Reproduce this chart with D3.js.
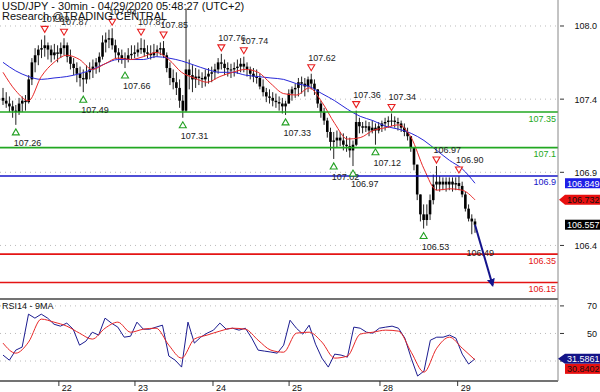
<!DOCTYPE html>
<html>
<head>
  <meta charset="UTF-8">
  <style>
    body { margin: 0; background: #fff; }
    svg { display: block; font-family: "Liberation Sans", Arial, sans-serif; }
  </style>
</head>
<body>
<svg></svg>
<script src="https://d3js.org/d3.v7.min.js"></script>
<script>

let width = 600, height = 392;

// hourly bars (open = previous close)
let highs = [
  107.52,107.49,107.46,107.43,107.40,107.45,107.46,107.47,107.61,107.73,
  107.80,107.82,107.86,107.89,107.84,107.82,107.83,107.82,107.84,107.87,
  107.84,107.79,107.73,107.70,107.67,107.65,107.68,107.70,107.72,107.73,
  107.77,107.89,107.91,107.93,107.94,107.86,107.80,107.79,107.77,107.80,
  107.82,107.82,107.84,107.87,107.86,107.82,107.82,107.83,107.82,107.84,
  107.85,107.77,107.70,107.65,107.63,107.58,107.47,108.08,107.72,107.68,
  107.66,107.65,107.63,107.65,107.66,107.67,107.69,107.73,107.76,107.72,
  107.70,107.69,107.70,107.72,107.73,107.74,107.70,107.67,107.66,107.65,
  107.62,107.58,107.52,107.51,107.49,107.48,107.46,107.45,107.43,107.51,
  107.53,107.55,107.59,107.60,107.59,107.60,107.62,107.58,107.51,107.43,
  107.38,107.31,107.24,107.21,107.22,107.21,107.20,107.18,107.17,107.15,
  107.36,107.31,107.28,107.29,107.28,107.29,107.27,107.28,107.29,107.31,
  107.32,107.34,107.32,107.31,107.29,107.27,107.24,107.18,107.10,106.98,
  106.77,106.70,106.70,106.77,106.91,106.97,106.90,106.89,106.89,106.89,
  106.89,106.89,106.90,106.86,106.79,106.70,106.63,106.60
];
let lows = [
  107.40,107.38,107.35,107.31,107.26,107.33,107.35,107.36,107.41,107.54,
  107.63,107.68,107.73,107.74,107.72,107.70,107.72,107.70,107.73,107.75,
  107.70,107.65,107.61,107.56,107.53,107.49,107.55,107.58,107.59,107.62,
  107.63,107.72,107.77,107.80,107.79,107.73,107.70,107.69,107.66,107.70,
  107.72,107.73,107.74,107.76,107.74,107.73,107.72,107.73,107.74,107.75,
  107.73,107.63,107.54,107.51,107.47,107.38,107.31,107.35,107.51,107.49,
  107.52,107.54,107.52,107.53,107.55,107.56,107.58,107.62,107.65,107.61,
  107.60,107.59,107.60,107.62,107.63,107.63,107.60,107.58,107.56,107.55,
  107.51,107.46,107.42,107.41,107.39,107.38,107.36,107.34,107.33,107.41,
  107.43,107.45,107.46,107.48,107.46,107.49,107.51,107.47,107.38,107.31,
  107.26,107.17,107.08,107.02,107.10,107.11,107.08,107.07,107.03,106.97,
  107.11,107.20,107.20,107.21,107.18,107.20,107.12,107.20,107.21,107.22,
  107.24,107.25,107.24,107.22,107.21,107.18,107.15,107.07,106.94,106.73,
  106.58,106.53,106.55,106.59,106.70,106.80,106.79,106.80,106.79,106.80,
  106.79,106.80,106.80,106.75,106.65,106.58,106.49,106.50
];
let closes = [
  107.43,107.41,107.39,107.36,107.35,107.41,107.43,107.42,107.58,107.70,
  107.75,107.79,107.80,107.82,107.79,107.75,107.77,107.76,107.80,107.82,
  107.74,107.69,107.66,107.62,107.59,107.58,107.63,107.65,107.67,107.70,
  107.74,107.84,107.86,107.87,107.82,107.77,107.75,107.73,107.72,107.75,
  107.76,107.77,107.79,107.80,107.77,107.76,107.75,107.77,107.79,107.80,
  107.75,107.66,107.59,107.56,107.52,107.43,107.36,107.65,107.61,107.58,
  107.60,107.59,107.58,107.60,107.62,107.63,107.65,107.70,107.69,107.66,
  107.65,107.65,107.66,107.67,107.69,107.67,107.65,107.62,107.60,107.59,
  107.53,107.49,107.46,107.45,107.43,107.42,107.41,107.39,107.41,107.48,
  107.51,107.52,107.56,107.55,107.53,107.58,107.55,107.51,107.41,107.35,
  107.29,107.21,107.14,107.15,107.17,107.15,107.12,107.11,107.08,107.12,
  107.28,107.25,107.24,107.25,107.22,107.24,107.22,107.25,107.27,107.28,
  107.29,107.29,107.28,107.27,107.24,107.21,107.18,107.10,106.98,106.77,
  106.63,106.59,106.63,106.73,106.84,106.86,106.84,106.86,106.84,106.86,
  106.84,106.85,106.83,106.77,106.67,106.60,106.58,106.557
];

// moving averages, sampled evenly over the bars
let redMA = [107.63,107.50,107.43,107.60,107.70,107.75,107.72,107.65,107.69,107.73,
  107.72,107.74,107.77,107.72,107.63,107.59,107.56,107.60,107.63,107.65,
  107.63,107.55,107.48,107.47,107.52,107.42,107.27,107.16,107.17,107.22,
  107.24,107.26,107.17,106.95,106.80,106.81,106.80,106.732];
let blueMA = [107.70,107.64,107.60,107.58,107.59,107.60,107.62,107.65,107.69,107.72,
  107.72,107.72,107.74,107.73,107.71,107.68,107.65,107.63,107.63,107.61,
  107.60,107.59,107.58,107.55,107.53,107.48,107.43,107.37,107.32,107.29,
  107.25,107.23,107.20,107.15,107.08,107.01,106.95,106.849];

// RSI14 and its 9MA
let rsi = [34.3,30.6,37.9,40.1,64.0,61.1,64.0,61.1,56.7,55.3,
  57.5,53.1,41.5,44.4,50.9,48.8,61.1,57.5,54.6,47.3,
  48.0,58.2,53.1,53.1,54.6,56.0,33.6,30.6,25.6,58.2,
  43.0,47.3,50.2,52.4,57.5,53.1,53.8,52.4,53.8,46.6,
  37.9,37.2,36.5,35.7,41.5,59.6,53.8,49.5,56.0,42.2,
  32.1,25.6,35.0,34.3,32.8,54.6,53.8,50.9,50.2,53.8,
  54.6,55.3,53.8,46.6,32.1,19.1,22.7,45.1,47.3,47.3,
  48.8,46.6,35.0,27.8,31.5861];
let rsiMA = [43.0,35.7,43.7,60.4,58.2,55.3,50.2,45.9,53.8,58.2,
  50.9,53.1,53.8,41.5,32.1,45.9,48.8,51.7,53.8,53.1,
  45.1,37.9,36.4,50.2,50.9,43.7,32.1,33.6,49.5,50.9,
  52.4,51.7,36.4,21.9,39.3,47.3,39.3,30.8402];

// key levels
let levels = [107.35, 107.1, 106.9, 106.35, 106.15];
let levelLabels = ["107.35", "107.1", "106.9", "106.35", "106.15"];

// fractal highs / lows (bar index, price)
let highIdx = [13, 19, 34, 43, 50, 68, 75, 96, 110, 121, 135, 142];
let highVal = [107.89, 107.87, 107.94, 107.87, 107.85, 107.76, 107.74, 107.62, 107.36, 107.34, 106.97, 106.90];
let lowIdx = [4, 25, 38, 56, 88, 103, 109, 116, 131];
let lowVal = [107.26, 107.49, 107.66, 107.31, 107.33, 107.02, 106.97, 107.12, 106.53];

// day labels (bar index)
let dayIdx = [17.4, 41.1, 65.4, 89.1, 117.4, 141.6];
let dayLabels = ["22", "23", "24", "25", "28", "29"];

let priceTicks = [107.956, 107.441, 106.926, 106.411];
let rsiTicks = [70, 50, 30];
let rsiTickLabels = ["70", "50", ""];   // 30 sits under the value tags

let lastClose = 106.557, lastBlue = 106.849, lastRed = 106.732;
let targetIdx = 152.5, targetVal = 106.13;

let svg = d3.select("svg")
    .attr("width", width)
    .attr("height", height)

let axisX = 558, mainBottom = 299, rsiBottom = 381;

let x = d3.scaleLinear().domain([0, 147]).range([3, 475]);
let y = d3.scaleLinear().domain([106.034, 108.139]).range([mainBottom, 0]);
let yr = d3.scaleLinear().domain([15.5, 75]).range([rsiBottom, mainBottom]);

let levelColor = d3.scaleOrdinal()
    .domain(levels)
    .range(["#22a822", "#22a822", "#1414c8", "#e41414", "#e41414"]);

svg.append("clipPath").attr("id", "mainClip")
  .append("rect").attr("x", 0).attr("y", 0).attr("width", axisX).attr("height", mainBottom);

// grid
svg.append("g")
  .selectAll("line")
  .data(priceTicks)
  .join("line")
  .attr("x1", 0).attr("x2", axisX)
  .attr("y1", d => y(d)).attr("y2", d => y(d))
  .attr("stroke", "#bbb")
  .attr("stroke-dasharray", "1,4");

svg.append("g")
  .selectAll("line")
  .data(rsiTicks)
  .join("line")
  .attr("x1", 0).attr("x2", axisX)
  .attr("y1", d => yr(d)).attr("y2", d => yr(d))
  .attr("stroke", "#bbb")
  .attr("stroke-dasharray", "1,4");

let main = svg.append("g").attr("clip-path", "url(#mainClip)");

// bars
let bars = main.append("g");
closes.forEach((c, i) => {
    let o = i > 0 ? closes[i - 1] : 107.45;
    bars.append("line")
      .attr("x1", x(i)).attr("x2", x(i))
      .attr("y1", y(highs[i])).attr("y2", y(lows[i]))
      .attr("stroke", "#222")
      .attr("stroke-width", 1);
    bars.append("rect")
      .attr("x", x(i) - 1.3)
      .attr("width", 2.6)
      .attr("y", Math.min(y(o), y(c)))
      .attr("height", Math.max(1, Math.abs(y(o) - y(c))))
      .attr("fill", "#000");
});

// moving averages
function maLine(arr, scale) {
    let n = arr.length - 1;
    return d3.line()
      .x((d, k) => x(k * 147 / n))
      .y(d => scale(d))
      .curve(d3.curveMonotoneX)(arr);
}

main.append("path").attr("d", maLine(blueMA, y))
  .attr("fill", "none").attr("stroke", "#2828d8").attr("stroke-width", 1);
main.append("path").attr("d", maLine(redMA, y))
  .attr("fill", "none").attr("stroke", "#e82828").attr("stroke-width", 1);

// levels
main.append("g")
  .selectAll("line")
  .data(levels)
  .join("line")
  .attr("x1", 0).attr("x2", axisX)
  .attr("y1", d => y(d)).attr("y2", d => y(d))
  .attr("stroke", d => levelColor(d))
  .attr("stroke-width", 1.6);

svg.append("g")
  .selectAll("text")
  .data(levels)
  .join("text")
  .attr("x", axisX - 2)
  .attr("y", d => y(d) + 9.5)
  .attr("text-anchor", "end")
  .attr("font-size", 9)
  .attr("fill", d => levelColor(d))
  .text((d, i) => levelLabels[i]);

// fractal markers
let marks = svg.append("g");
highIdx.forEach((idx, k) => {
    let cx = x(idx), cy = y(highVal[k]) - 6;
    marks.append("path")
      .attr("d", `M${cx - 3.5},${cy - 3} L${cx + 3.5},${cy - 3} L${cx},${cy + 3} Z`)
      .attr("fill", "#fff").attr("stroke", "#e82020").attr("stroke-width", 1.1);
    marks.append("text")
      .attr("x", cx - 3).attr("y", cy - 7)
      .attr("font-size", 9).attr("fill", "#222")
      .text(highVal[k].toFixed(2));
});
lowIdx.forEach((idx, k) => {
    let cx = x(idx), cy = y(lowVal[k]) + 7;
    marks.append("path")
      .attr("d", `M${cx - 3.5},${cy + 3} L${cx + 3.5},${cy + 3} L${cx},${cy - 3} Z`)
      .attr("fill", "#fff").attr("stroke", "#22a022").attr("stroke-width", 1.1);
    marks.append("text")
      .attr("x", cx - 2).attr("y", cy + 14)
      .attr("font-size", 9).attr("fill", "#222")
      .text(lowVal[k].toFixed(2));
});
marks.append("text")
  .attr("x", x(145) - 2).attr("y", y(lows[146]) + 22)
  .attr("font-size", 9).attr("fill", "#222")
  .text(lows[146].toFixed(2));

// projection arrow
svg.append("defs").append("marker")
  .attr("id", "head")
  .attr("viewBox", "0 0 10 10")
  .attr("refX", 8).attr("refY", 5)
  .attr("markerWidth", 4).attr("markerHeight", 4)
  .attr("orient", "auto")
  .append("path").attr("d", "M0,0 L10,5 L0,10 Z").attr("fill", "#14148c");

svg.append("line")
  .attr("x1", x(147)).attr("y1", y(lastClose))
  .attr("x2", x(targetIdx)).attr("y2", y(targetVal))
  .attr("stroke", "#14148c").attr("stroke-width", 2)
  .attr("marker-end", "url(#head)");

// RSI panel
svg.append("path")
  .attr("d", d3.line().x((d, k) => x(k * 147 / (rsi.length - 1))).y(d => yr(d))(rsi))
  .attr("fill", "none").attr("stroke", "#1c1c90").attr("stroke-width", 1);
svg.append("path").attr("d", maLine(rsiMA, yr))
  .attr("fill", "none").attr("stroke", "#e82828").attr("stroke-width", 1);

svg.append("text")
  .attr("x", 2).attr("y", 309)
  .attr("font-size", 9).attr("fill", "#111")
  .text("RSI14 - 9MA");

// frame
svg.append("line").attr("x1", 0).attr("x2", axisX).attr("y1", mainBottom).attr("y2", mainBottom)
  .attr("stroke", "#444").attr("stroke-width", 1.5);
svg.append("line").attr("x1", 0).attr("x2", axisX).attr("y1", rsiBottom).attr("y2", rsiBottom)
  .attr("stroke", "#444").attr("stroke-width", 1.5);
svg.append("line").attr("x1", axisX).attr("x2", axisX).attr("y1", 0).attr("y2", rsiBottom)
  .attr("stroke", "#888").attr("stroke-width", 1);

// right axis ticks and labels
let fmt = d3.format(".1f");
let axisG = svg.append("g").attr("font-size", 9).attr("fill", "#111");
priceTicks.forEach(t => {
    axisG.append("line").attr("x1", axisX + 2).attr("x2", axisX + 6)
      .attr("y1", y(t)).attr("y2", y(t)).attr("stroke", "#333");
    axisG.append("text").attr("x", 597).attr("y", y(t) + 3.5)
      .attr("text-anchor", "end").text(fmt(t));
});
rsiTicks.forEach((t, k) => {
    axisG.append("line").attr("x1", axisX + 2).attr("x2", axisX + 6)
      .attr("y1", yr(t)).attr("y2", yr(t)).attr("stroke", "#333");
    if (rsiTickLabels[k]) {
        axisG.append("text").attr("x", 597).attr("y", yr(t) + 3.5)
          .attr("text-anchor", "end").text(rsiTickLabels[k]);
    }
});

// bottom date ticks
dayIdx.forEach((d, k) => {
    svg.append("line").attr("x1", x(d)).attr("x2", x(d))
      .attr("y1", rsiBottom).attr("y2", rsiBottom + 5).attr("stroke", "#333");
    svg.append("text").attr("x", x(d) + 3).attr("y", 391)
      .attr("font-size", 9).attr("fill", "#111").text(dayLabels[k]);
});

// value tags
function tag(yc, bg, fg, label, pointerX) {
    let x0 = 565, h = 10;
    if (pointerX) {
        svg.append("path")
          .attr("d", `M${pointerX},${yc} L${x0},${yc - h / 2} L600,${yc - h / 2} L600,${yc + h / 2} L${x0},${yc + h / 2} Z`)
          .attr("fill", bg);
    } else {
        svg.append("rect").attr("x", x0).attr("y", yc - h / 2)
          .attr("width", 600 - x0).attr("height", h).attr("fill", bg);
    }
    svg.append("text").attr("x", x0 + 2).attr("y", yc + 3.5)
      .attr("font-size", 9).attr("fill", fg).text(label);
}

tag(y(lastBlue), "#1e1ee6", "#fff", lastBlue.toFixed(3));
tag(y(lastRed), "#e81010", "#111", lastRed.toFixed(3), 559);
tag(y(lastClose), "#000", "#fff", lastClose.toFixed(3));
tag(yr(rsi[rsi.length - 1]), "#141488", "#fff", rsi[rsi.length - 1].toFixed(4), 558);
tag(yr(rsiMA[rsiMA.length - 1]) + 9, "#e81010", "#111", rsiMA[rsiMA.length - 1].toFixed(4));

// header
svg.append("text").attr("x", 2).attr("y", 10)
  .attr("font-size", 11).attr("fill", "#111")
  .text("USD/JPY - 30min - 04/29/2020 05:48:27 (UTC+2)");
svg.append("text").attr("x", 2).attr("y", 20)
  .attr("font-size", 11).attr("fill", "#111")
  .text("Research @TRADING CENTRAL");

</script>
</body>
</html>
